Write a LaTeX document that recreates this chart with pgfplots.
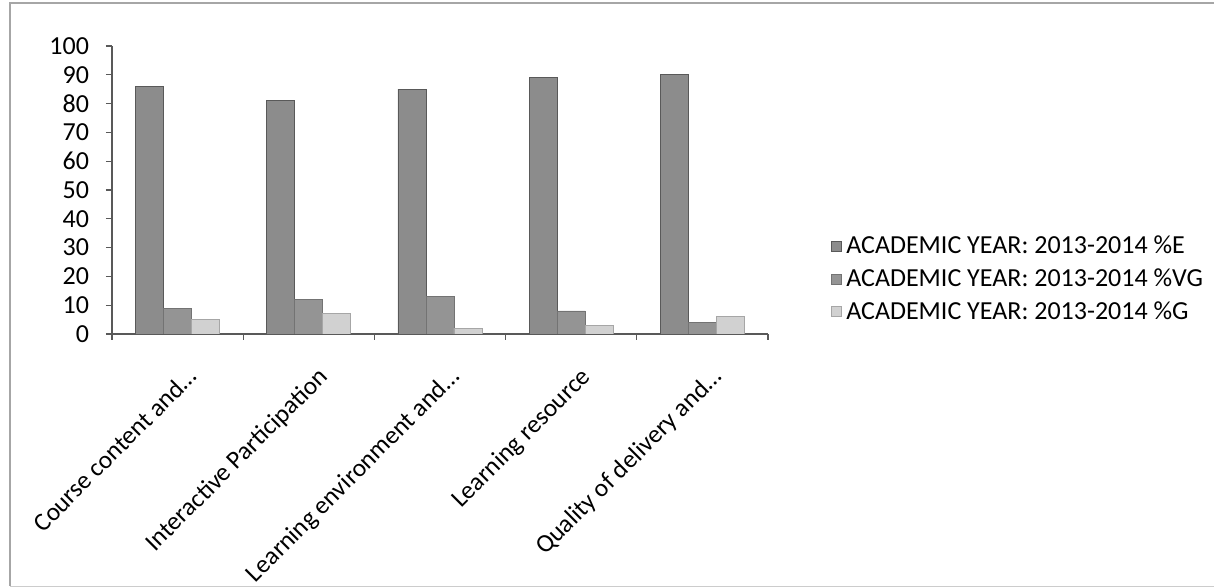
\documentclass[border=0pt]{standalone}
\usepackage{fontspec}
\setmainfont{Carlito}
\usepackage{pgfplots}
\pgfplotsset{compat=1.18}

\definecolor{barE}{gray}{0.55}
\definecolor{barVG}{gray}{0.58}
\definecolor{barG}{gray}{0.82}
\definecolor{axgray}{gray}{0.35}

\begin{document}
\begin{tikzpicture}
\useasboundingbox (0pt,0pt) rectangle (607pt,293.5pt);
% scanned chart frame
\draw[gray!70, line width=0.6pt] (5pt,0.5pt) -- (5pt,292pt) -- (607pt,292pt);
\draw[gray!40, line width=0.4pt] (5pt,0.5pt) -- (607pt,0.5pt);

\begin{axis}[
    at={(56pt,126.5pt)}, anchor=south west,
    scale only axis,
    width=328pt, height=144pt,
    ybar=0pt, bar width=14pt,
    xmin=-0.5, xmax=4.5,
    ymin=0, ymax=100,
    axis x line*=bottom, axis y line*=left,
    axis line style={axgray, line width=0.6pt},
    tick align=outside,
    major tick length=3pt,
    tick style={axgray, line width=0.6pt},
    ytick={0,10,...,100},
    xtick={-0.5,0.5,...,4.5},
    xticklabels={},
    extra x ticks={0,1,2,3,4},
    extra x tick labels={{Course content and…},{Interactive Participation},{Learning environment and…},{Learning resource},{Quality of delivery and…}},
    extra x tick style={major tick length=0pt, tick style={draw=none}},
    x tick label style={xshift=4pt, yshift=-11pt, rotate=45, anchor=north east, font=\fontsize{12.7}{15}\selectfont},
    y tick label style={font=\fontsize{13}{15}\selectfont, xshift=-5pt},
    /pgf/number format/assume math mode=true,
    legend style={at={(1.087,0.37)}, anchor=north west, draw=none, fill=none,
        font=\fontsize{13}{16}\selectfont, row sep=2pt,
        /tikz/every even column/.append style={column sep=2pt}},
    legend cell align=left,
    legend image code/.code={\draw[#1] (0pt,-2.5pt) rectangle (5pt,2.5pt);},
]
\addplot[fill=barE, draw=black!65] coordinates {(0,86) (1,81) (2,85) (3,89) (4,90)};
\addplot[fill=barVG, draw=black!55] coordinates {(0,9) (1,12) (2,13) (3,8) (4,4)};
\addplot[fill=barG, draw=black!35] coordinates {(0,5) (1,7) (2,2) (3,3) (4,6)};
\legend{ACADEMIC YEAR: 2013-2014 \%E, ACADEMIC YEAR: 2013-2014 \%VG, ACADEMIC YEAR: 2013-2014 \%G}
\end{axis}
\end{tikzpicture}
\end{document}
